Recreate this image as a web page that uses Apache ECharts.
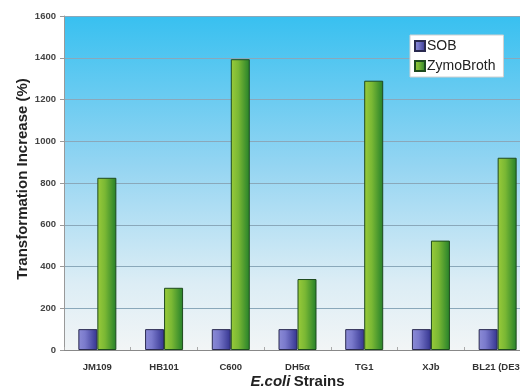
<!DOCTYPE html>
<html>
<head>
<meta charset="utf-8">
<script src="https://cdn.jsdelivr.net/npm/echarts@6/dist/echarts.min.js"></script>
<style>html,body{margin:0;padding:0;background:#fff}#c{width:520px;height:390px}</style>
</head>
<body>
<div id="c"></div>
<script>
const categories = ['JM109', 'HB101', 'C600', 'DH5\u03b1', 'TG1', 'XJb', 'BL21 (DE3)'];
const sobValues = [100, 100, 100, 100, 100, 100, 100];
const zymoValues = [825, 298, 1393, 340, 1290, 524, 921];
const yTicks = { min: 0, max: 1600, interval: 200 };

const chart = echarts.init(document.getElementById('c'));
const sobColor = { type: 'linear', x: 0, y: 0, x2: 1, y2: 0, colorStops: [
  { offset: 0, color: '#8c8cd6' }, { offset: 0.35, color: '#7a7acc' }, { offset: 1, color: '#33338f' } ] };
const zymoColor = { type: 'linear', x: 0, y: 0, x2: 1, y2: 0, colorStops: [
  { offset: 0, color: '#9acb3a' }, { offset: 0.4, color: '#7ab834' }, { offset: 1, color: '#24802a' } ] };

chart.setOption({
  animation: false,
  backgroundColor: '#ffffff',
  textStyle: { fontFamily: 'Liberation Sans, Arial, sans-serif' },
  grid: {
    left: 64, top: 16, width: 467, height: 334, show: true, borderWidth: 0,
    outerBoundsMode: 'none', containLabel: false,
    backgroundColor: { type: 'linear', x: 0, y: 0, x2: 0, y2: 1, colorStops: [
      { offset: 0, color: '#38c0f0' }, { offset: 0.45, color: '#95d5f2' }, { offset: 0.8, color: '#dcedf5' }, { offset: 1, color: '#f2f5f6' } ] }
  },
  legend: {
    left: 410, top: 35, orient: 'vertical',
    backgroundColor: '#ffffff', borderColor: '#d0d0d0', borderWidth: 1, borderRadius: 0,
    padding: [4, 8, 4, 4], itemWidth: 10, itemHeight: 10, itemGap: 6,
    icon: 'rect',
    textStyle: { fontSize: 14, color: '#222', padding: [0, 0, 0, -3] },
    data: ['SOB', 'ZymoBroth']
  },
  xAxis: {
    type: 'category', data: categories,
    axisLine: { lineStyle: { color: '#888' } },
    axisTick: { show: true, inside: true, length: 3, lineStyle: { color: '#aaa' } },
    axisLabel: { fontSize: 9.5, fontWeight: 'bold', color: '#333', margin: 12, interval: 0, hideOverlap: false },
    name: '{it|E.coli} {b|Strains}', nameLocation: 'middle', nameGap: 24, nameMoveOverlap: false,
    nameTextStyle: { rich: {
      it: { fontSize: 15, fontWeight: 'bold', fontStyle: 'italic', color: '#222' },
      b: { fontSize: 15, fontWeight: 'bold', color: '#222' } } }
  },
  yAxis: {
    type: 'value', min: yTicks.min, max: yTicks.max, interval: yTicks.interval,
    axisLine: { show: true, lineStyle: { color: '#999' } },
    axisTick: { show: true, length: 4, lineStyle: { color: '#999' } },
    axisLabel: { fontSize: 9.5, fontWeight: 'bold', color: '#444', margin: 8, formatter: v => String(v) },
    splitLine: { lineStyle: { color: '#8aa8ba', width: 1 } },
    name: 'Transformation Increase (%)', nameLocation: 'middle', nameGap: 34, nameMoveOverlap: false,
    nameTextStyle: { fontSize: 15, fontWeight: 'bold', color: '#222', padding: [0, 0, 0, 8] }
  },
  series: [
    { name: 'SOB', type: 'bar', data: sobValues, barWidth: 19, barGap: '0%',
      itemStyle: { color: sobColor, borderColor: '#2a2a50', borderWidth: 1 } },
    { name: 'ZymoBroth', type: 'bar', data: zymoValues, barWidth: 19,
      itemStyle: { color: zymoColor, borderColor: '#1e4a1e', borderWidth: 1 } }
  ]
});
</script>
</body>
</html>
